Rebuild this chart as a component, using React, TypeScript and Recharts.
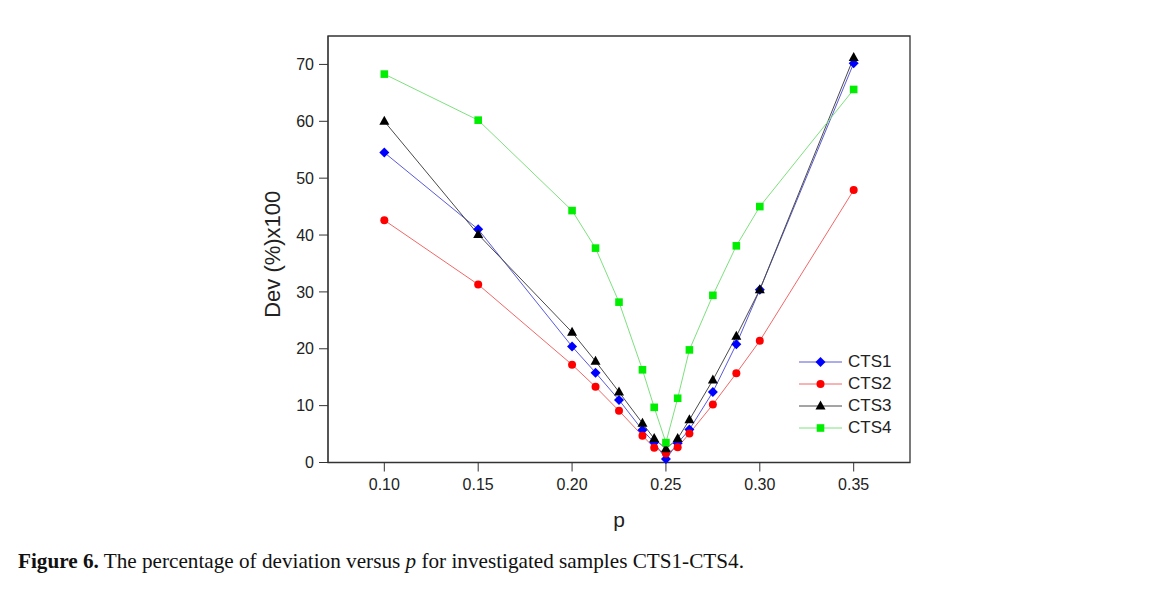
import { LineChart, Line, XAxis, YAxis, ReferenceArea, Legend } from 'recharts'

// p values (x) and deviation values (%)x100 for each sample
const pValues = [0.1, 0.15, 0.2, 0.2125, 0.225, 0.2375, 0.24375, 0.25, 0.25625, 0.2625, 0.275, 0.2875, 0.3, 0.35]
const cts1 = [54.5, 41.0, 20.4, 15.8, 11.0, 5.7, 3.5, 0.6, 3.4, 5.8, 12.4, 20.8, 30.4, 70.2]
const cts2 = [42.6, 31.3, 17.2, 13.3, 9.1, 4.7, 2.6, 1.6, 2.7, 5.1, 10.2, 15.7, 21.4, 47.9]
const cts3 = [60.0, 40.1, 22.9, 17.8, 12.4, 6.9, 4.2, 2.4, 4.2, 7.5, 14.5, 22.2, 30.4, 71.2]
const cts4 = [68.3, 60.2, 44.3, 37.7, 28.2, 16.3, 9.7, 3.5, 11.3, 19.8, 29.4, 38.1, 45.0, 65.6]

const xTicks = [0.1, 0.15, 0.2, 0.25, 0.3, 0.35]
const yTicks = [0, 10, 20, 30, 40, 50, 60, 70]

const data = pValues.map((p, i) => ({
  p,
  CTS1: cts1[i],
  CTS2: cts2[i],
  CTS3: cts3[i],
  CTS4: cts4[i],
}))

type Shape = 'diamond' | 'circle' | 'triangle' | 'square'

const series: { key: string; line: string; fill: string; shape: Shape }[] = [
  { key: 'CTS1', line: '#5a5ad8', fill: '#0000ff', shape: 'diamond' },
  { key: 'CTS2', line: '#f06868', fill: '#ff0000', shape: 'circle' },
  { key: 'CTS3', line: '#4a4a4a', fill: '#000000', shape: 'triangle' },
  { key: 'CTS4', line: '#7ee07e', fill: '#00ee00', shape: 'square' },
]

const SANS = '"Liberation Sans", Arial, sans-serif'

function marker(shape: Shape, cx: number, cy: number, fill: string, key?: string) {
  if (shape === 'diamond') {
    const r = 5
    return <path key={key} d={`M${cx},${cy - r}L${cx + r},${cy}L${cx},${cy + r}L${cx - r},${cy}Z`} fill={fill} />
  }
  if (shape === 'circle') return <circle key={key} cx={cx} cy={cy} r={4} fill={fill} />
  if (shape === 'triangle') {
    return <path key={key} d={`M${cx},${cy - 5.5}L${cx + 5},${cy + 3.5}L${cx - 5},${cy + 3.5}Z`} fill={fill} />
  }
  return <rect key={key} x={cx - 3.8} y={cy - 3.8} width={7.6} height={7.6} fill={fill} />
}

function renderLegend() {
  return (
    <div style={{ fontFamily: SANS, fontSize: 17, color: '#222' }}>
      {series.map(s => (
        <div key={s.key} style={{ display: 'flex', alignItems: 'center', height: 22 }}>
          <svg width={46} height={16}>
            <line x1={1} y1={8} x2={44} y2={8} stroke={s.line} strokeWidth={1} />
            {marker(s.shape, 22.5, 8, s.fill)}
          </svg>
          <span style={{ marginLeft: 4 }}>{s.key}</span>
        </div>
      ))}
    </div>
  )
}

export default function App() {
  return (
    <div style={{ position: 'relative', width: 1171, height: 605, margin: -8, background: '#fff' }}>
      <div
        style={{
          position: 'absolute', left: 7, top: 3, width: 1155, height: 596,
          border: '1px solid #9a9a9a',
        }}
      />
      <div style={{ position: 'absolute', left: 0, top: 0 }}>
        <LineChart
          width={1171}
          height={605}
          data={data}
          margin={{ top: 36, right: 261, bottom: 112.5, left: 268 }}
        >
          <ReferenceArea x1={0.07} x2={0.38} y1={0} y2={75} fill="none" stroke="#333" strokeWidth={1.3} />
          <XAxis
            type="number"
            dataKey="p"
            domain={[0.07, 0.38]}
            ticks={xTicks}
            allowDataOverflow
            tickFormatter={(v: number) => v.toFixed(2)}
            height={30}
            tickSize={9}
            tickMargin={7}
            stroke="#333"
            tick={{ fill: '#222', fontSize: 16, fontFamily: SANS }}
            label={{ value: 'p', position: 'bottom', offset: 20, fill: '#222', fontSize: 21, fontFamily: SANS }}
          />
          <YAxis
            type="number"
            domain={[0, 75]}
            ticks={yTicks}
            width={60}
            tickSize={9}
            tickMargin={5}
            stroke="#333"
            tick={{ fill: '#222', fontSize: 16, fontFamily: SANS }}
            label={{
              content: ({ viewBox }: any) => {
                const cy = viewBox.y + viewBox.height / 2 + 5
                return (
                  <text
                    x={280}
                    y={cy}
                    transform={`rotate(-90, 280, ${cy})`}
                    textAnchor="middle"
                    fill="#222"
                    fontSize={22}
                    fontFamily={SANS}
                  >
                    Dev (%)x100
                  </text>
                )
              },
            }}
          />
          <Legend
            layout="vertical"
            verticalAlign="middle"
            align="center"
            content={renderLegend}
            wrapperStyle={{ left: 798, top: 351, width: 110 }}
          />
          {series.map(s => (
            <Line
              key={s.key}
              dataKey={s.key}
              stroke={s.line}
              strokeWidth={1}
              isAnimationActive={false}
              dot={(props: any) => marker(s.shape, props.cx, props.cy, s.fill, `${s.key}-${props.index}`)}
              activeDot={false}
            />
          ))}
        </LineChart>
      </div>
      <div
        style={{
          position: 'absolute', left: 18, top: 549, fontFamily: '"Liberation Serif", "Times New Roman", serif',
          fontSize: 21.2, color: '#111', whiteSpace: 'nowrap',
        }}
      >
        <b>Figure 6.</b> The percentage of deviation versus <i>p</i> for investigated samples CTS1-CTS4.
      </div>
    </div>
  )
}
